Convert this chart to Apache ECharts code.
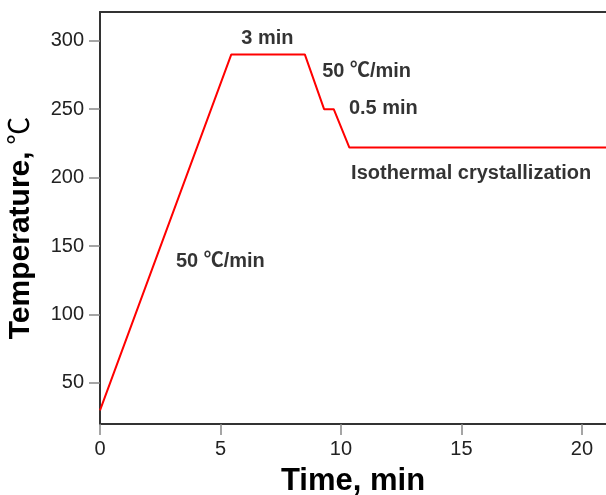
<!DOCTYPE html>
<html>
<head>
<meta charset="utf-8">
<script src="https://cdn.jsdelivr.net/npm/echarts@6/dist/echarts.min.js"></script>
<style>
  html, body { margin: 0; padding: 0; background: #fff; }
  #chart { width: 606px; height: 495px; }
</style>
</head>
<body>
<div id="chart"></div>
<script>
// Thermal program: time (min) vs. temperature (℃)
const times = [0, 5.45, 8.5, 9.3, 9.7, 10.35, 21];
const temps = [30, 290, 290, 250, 250, 222, 222];

// Axis tick labels
const xTicks = [0, 5, 10, 15, 20];
const yTicks = [50, 100, 150, 200, 250, 300];

// Step annotations: text and anchor point [time, temperature]
const noteTexts = ['3 min', '50 ℃/min', '0.5 min', 'Isothermal crystallization', '50 ℃/min'];
const noteTimes = [6.95, 9.22, 10.33, 10.42, 3.15];
const noteTemps = [301.5, 277.5, 250.5, 203, 139];
const noteAligns = ['center', 'left', 'left', 'left', 'left'];

const FONT = '"Liberation Sans", Arial, "Noto Sans CJK SC", sans-serif';

const linePoints = times.map((t, i) => [t, temps[i]]);
const notePoints = noteTexts.map((s, i) => ({
  value: [noteTimes[i], noteTemps[i]],
  name: s,
  label: { align: noteAligns[i] }
}));

const chart = echarts.init(document.getElementById('chart'), null, { renderer: 'canvas' });
chart.setOption({
  backgroundColor: '#fff',
  animation: false,
  grid: { left: 100, right: 0, top: 12, bottom: 71, containLabel: false, outerBoundsMode: 'none' },
  xAxis: [{
    type: 'value',
    min: 0, max: 21,
    name: 'Time, min',
    nameLocation: 'middle',
    nameGap: 42,
    nameTextStyle: { fontFamily: FONT, fontSize: 31, fontWeight: 'bold', color: '#000' },
    axisLine: { show: true, onZero: false, lineStyle: { color: '#333', width: 2 } },
    axisTick: { show: true, length: 11, customValues: xTicks, lineStyle: { color: '#888', width: 1.5 } },
    axisLabel: { customValues: xTicks, margin: 15, fontFamily: FONT, fontSize: 20, color: '#222' },
    splitLine: { show: false }
  }, {
    type: 'value',
    position: 'top',
    min: 0, max: 21,
    axisLine: { show: true, onZero: false, lineStyle: { color: '#333', width: 2 } },
    axisTick: { show: false },
    axisLabel: { show: false },
    splitLine: { show: false }
  }],
  yAxis: {
    type: 'value',
    min: 20, max: 321,
    name: '{b|Temperature,}  {n|℃}',
    nameLocation: 'middle',
    nameRotate: 90,
    nameGap: 64,
    nameTextStyle: {
      padding: [0, 20, 0, 0],
      rich: {
        b: { fontFamily: FONT, fontSize: 30, fontWeight: 'bold', color: '#000' },
        n: { fontFamily: FONT, fontSize: 28, color: '#000' }
      }
    },
    axisLine: { show: true, onZero: false, lineStyle: { color: '#333', width: 2 } },
    axisTick: { show: true, length: 11, customValues: yTicks, lineStyle: { color: '#888', width: 1.5 } },
    axisLabel: { customValues: yTicks, margin: 16, fontFamily: FONT, fontSize: 20, color: '#222' },
    splitLine: { show: false }
  },
  series: [{
    type: 'line',
    data: linePoints,
    symbol: 'none',
    lineStyle: { color: '#ff0000', width: 2 },
    z: 3
  }, {
    type: 'scatter',
    data: notePoints,
    symbolSize: 0,
    silent: true,
    label: {
      show: true,
      position: 'inside',
      verticalAlign: 'middle',
      formatter: p => p.name,
      fontFamily: FONT,
      fontSize: 20,
      fontWeight: 'bold',
      color: '#000'
    },
    z: 4
  }]
});
</script>
</body>
</html>
